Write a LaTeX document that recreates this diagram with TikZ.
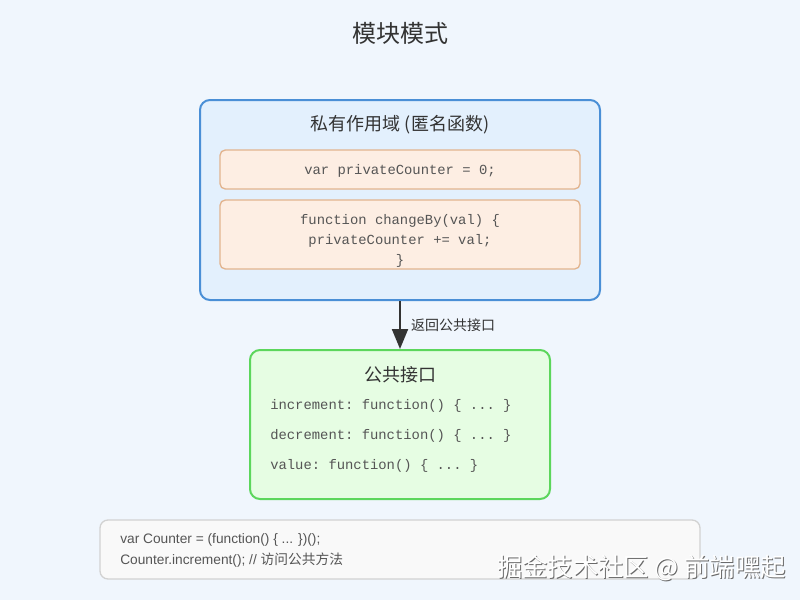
\documentclass[tikz,border=0pt]{standalone}
\usepackage{fontspec}
\setmainfont{Liberation Sans}
\setmonofont{Liberation Mono}
\newfontfamily\cjk{Noto Sans CJK SC}
\usetikzlibrary{arrows.meta,positioning}
\definecolor{bgc}{HTML}{F0F6FD}
\definecolor{scopefill}{HTML}{E3F0FD}
\definecolor{scopeline}{HTML}{4A8FD6}
\definecolor{varfill}{HTML}{FDEEE3}
\definecolor{varline}{HTML}{E2B48E}
\definecolor{pubfill}{HTML}{E6FDE3}
\definecolor{publine}{HTML}{5CD65C}
\definecolor{usefill}{HTML}{F9F9F9}
\definecolor{useline}{HTML}{D2D2D2}
\definecolor{darktxt}{HTML}{333333}
\definecolor{codetxt}{HTML}{555555}
\definecolor{shadowc}{HTML}{6A6A6A}
\tikzset{
  box/.style={rounded corners=7.5pt, line width=1.5pt, inner sep=0pt},
  smallbox/.style={rounded corners=4pt, line width=1pt, inner sep=0pt},
  boxtitle/.style={font=\cjk\fontsize{13.5}{16}\selectfont, text=darktxt},
  code/.style={font=\ttfamily\fontsize{10.4}{12}\selectfont, text=codetxt},
  usetxt/.style={font=\fontsize{10.3}{12}\selectfont, text=codetxt, anchor=west, inner sep=0pt},
  wmtxt/.style={font=\cjk\fontsize{19}{22}\selectfont, anchor=west, inner sep=0pt},
}
\begin{document}
\begin{tikzpicture}[x=0.75pt,y=-0.75pt]
\fill[bgc] (0,0) rectangle (800,600);
\useasboundingbox (0,0) rectangle (800,600);

\node[font=\cjk\fontsize{18}{22}\selectfont, text=darktxt] (title) at (400,33) {模块模式};

% private scope
\node[box, draw=scopeline, fill=scopefill, minimum width=300pt, minimum height=150pt] (scope) at (400,200) {};
\node[boxtitle] (scopetitle) at (400,125) {私有作用域 (匿名函数)};
\node[smallbox, draw=varline, fill=varfill, minimum width=270pt, minimum height=29.25pt] (var) at (400,169.5) {};
\node[code] (vartxt) at (400,171) {var privateCounter = 0;};
\node[smallbox, draw=varline, fill=varfill, minimum width=270pt, minimum height=51.75pt] (fn) at (400,234.5) {};
\node[code] (fn1) at (400,221) {function changeBy(val) \{};
\node[code] (fn2) at (400,241) {privateCounter += val;};
\node[code] (fn3) at (400,261) {\}};

% public interface
\node[box, draw=publine, fill=pubfill, minimum width=225pt, minimum height=111.75pt] (pub) at (400,424.5) {};
\node[boxtitle] (pubtitle) at (400,375) {公共接口};
\node[code, anchor=west, inner sep=0pt] (p1) at (270,406) {increment: function() \{ ... \}};
\node[code, anchor=west, inner sep=0pt] (p2) at (270,436) {decrement: function() \{ ... \}};
\node[code, anchor=west, inner sep=0pt] (p3) at (270,466) {value: function() \{ ... \}};

\draw[line width=1.5pt, draw=darktxt, -{Triangle[length=15pt,width=12pt]}] (scope.south) -- (pub.north)
  node[pos=0.5, anchor=west, inner sep=0pt, xshift=7.5pt, font=\cjk\fontsize{10.5}{12}\selectfont, text=darktxt] (arrowlbl) {返回公共接口};

% usage
\node[smallbox, rounded corners=6pt, draw=useline, fill=usefill, minimum width=450pt, minimum height=44.25pt] (use) at (400,549.5) {};
\node[usetxt] (u1) at (120,540) {var Counter = (function() \{ ... \})();};
\node[usetxt] (u2) at (120,560) {Counter.increment(); // {\cjk 访问公共方法}};

% watermark
\node[wmtxt, text=shadowc] (wm0) at (498,569) {掘金技术社区 @ 前端嘿起};
\node[wmtxt, text=white] (wm) at (497,568) {掘金技术社区 @ 前端嘿起};
\end{tikzpicture}
\end{document}
